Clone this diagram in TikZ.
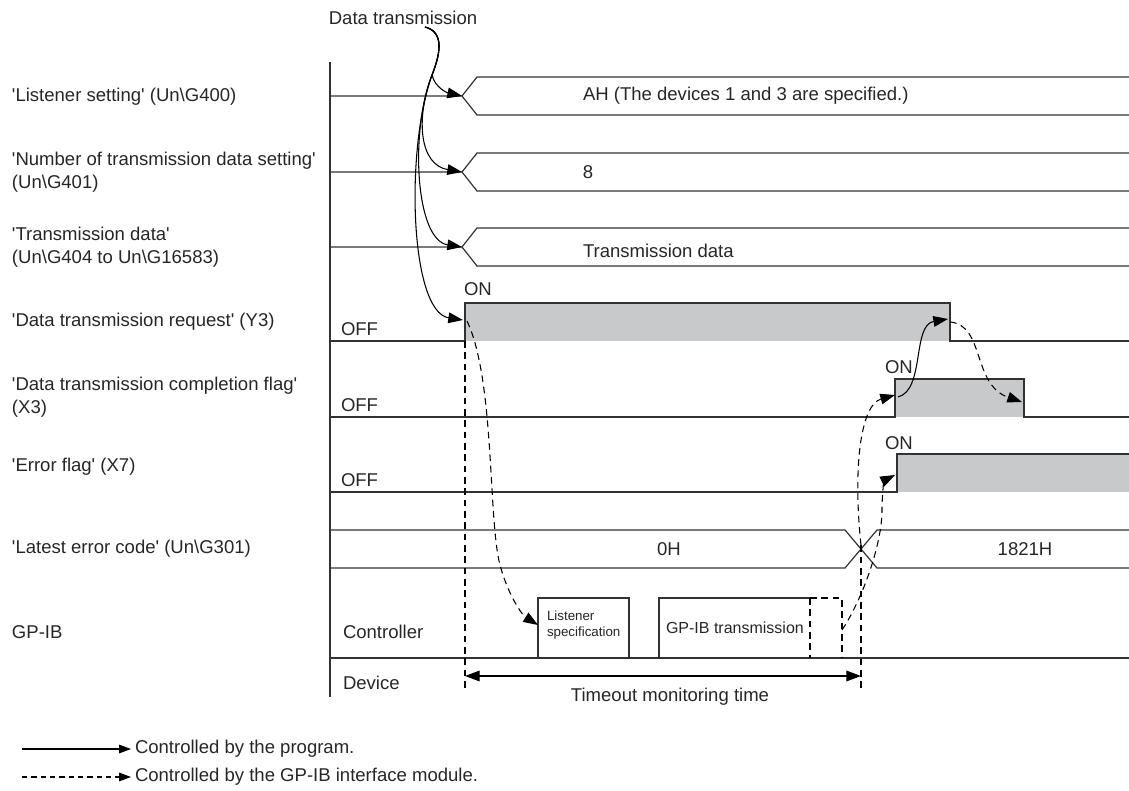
\documentclass[tikz,border=0pt]{standalone}
\usepackage{fontspec}
\setmainfont[Ligatures=TeXOff]{Liberation Sans}
\usetikzlibrary{arrows.meta}
\definecolor{wavegray}{RGB}{200,201,202}
\definecolor{linec}{RGB}{50,50,50}
\begin{document}
\begin{tikzpicture}[x=0.75pt,y=-0.75pt,
  every node/.style={inner sep=0pt, outer sep=0pt, font=\fontsize{13.9}{17.25}\selectfont, text=black!85},
  sig/.style={line width=0.9pt, draw=linec},
  ctl/.style={line width=0.8pt, draw=black, -{Triangle[length=11pt,width=8pt]}},
  modctl/.style={ctl, dash pattern=on 5pt off 3.5pt},
  legctl/.style={line width=0.8pt, draw=black, -{Triangle[length=9pt,width=6.5pt]}},
  guide/.style={line width=0.8pt, draw=black, dash pattern=on 5pt off 3.5pt},
  lbl/.style={anchor=west, align=left},
  smalltxt/.style={font=\fontsize{10}{12}\selectfont, align=left, anchor=west},
]
\useasboundingbox (0,0) rectangle (1129,791);

% ---------- left labels ----------
\node[lbl] (l1) at (12,97) {'Listener setting' (Un\textbackslash G400)};
\node[lbl] (l2) at (12,172) {'Number of transmission data setting'\\(Un\textbackslash G401)};
\node[lbl] (l3) at (12,247) {'Transmission data'\\(Un\textbackslash G404 to Un\textbackslash G16583)};
\node[lbl] (l4) at (12,322) {'Data transmission request' (Y3)};
\node[lbl] (l5) at (12,397) {'Data transmission completion flag'\\(X3)};
\node[lbl] (l6) at (12,467) {'Error flag' (X7)};
\node[lbl] (l7) at (12,549) {'Latest error code' (Un\textbackslash G301)};
\node[lbl] (l8) at (12,632) {GP-IB};

% ---------- axis ----------
\draw[sig] (330,62) -- (330,697);

% ---------- bus rows ----------
\draw[sig] (330,96) -- (462,96) -- (477,77) -- (1129,77);
\draw[sig] (462,96) -- (477,115) -- (1129,115);
\draw[sig] (330,172) -- (462,172) -- (477,153) -- (1129,153);
\draw[sig] (462,172) -- (477,191) -- (1129,191);
\draw[sig] (330,247) -- (462,247) -- (477,228) -- (1129,228);
\draw[sig] (462,247) -- (477,266) -- (1129,266);
\node[anchor=west] (v1) at (583,96) {AH (The devices 1 and 3 are specified.)};
\node (v2) at (588,172) {8};
\node[anchor=west] (v3) at (583,251) {Transmission data};

% ---------- Y3 ----------
\fill[wavegray] (465,303) rectangle (950,341);
\draw[sig] (330,341) -- (465,341) -- (465,303) -- (950,303) -- (950,341) -- (1129,341);
\node[anchor=west] (on1) at (464,289) {ON};
\node[anchor=west] (off1) at (341,329) {OFF};

% ---------- X3 ----------
\fill[wavegray] (895,379) rectangle (1024,417);
\draw[sig] (330,417) -- (895,417) -- (895,379) -- (1024,379) -- (1024,417) -- (1129,417);
\node[anchor=west] (on2) at (885,367) {ON};
\node[anchor=west] (off2) at (341,405) {OFF};

% ---------- X7 ----------
\fill[wavegray] (897,454) rectangle (1129,492);
\draw[sig] (330,492) -- (897,492) -- (897,454) -- (1129,454);
\node[anchor=west] (on3) at (885,443) {ON};
\node[anchor=west] (off3) at (341,480) {OFF};

% ---------- latest error code ----------
\draw[sig] (330,530) -- (845,530) -- (877,568) -- (1129,568);
\draw[sig] (330,568) -- (845,568) -- (877,530) -- (1129,530);
\node (v4) at (669,549) {0H};
\node (v5) at (1025,549) {1821H};

% ---------- GP-IB ----------
\draw[sig] (330,658) -- (1129,658);
\node[anchor=west] (ctlr) at (343,632) {Controller};
\node[anchor=west] (dev) at (343,683) {Device};
\draw[sig] (538,658) -- (538,598) -- (629,598) -- (629,658);
\node[smalltxt] (lsp) at (547,625) {Listener\\specification};
\draw[sig] (810,598) -- (659,598) -- (659,658);
\node[anchor=west, font=\fontsize{12}{14}\selectfont] (gpt) at (666,628) {GP-IB transmission};
\draw[guide] (810,598) -- (810,658);
\draw[guide] (810,598) -- (842,598) -- (842,658);

% ---------- coordinates ----------
\coordinate (dt) at (425,27);
\coordinate (dtk) at (432,75);
\coordinate (t1) at (462,96);
\coordinate (t2) at (462,172);
\coordinate (t3) at (462,247);
\coordinate (t4) at (463,320);
\coordinate (y3r) at (467,321);
\coordinate (lspin) at (538,625);
\coordinate (gpout) at (842,630);
\coordinate (x3r) at (895,395);
\coordinate (x3s) at (898,397);
\coordinate (x7r) at (895,475);
\coordinate (y3f) at (948,319);
\coordinate (y3fs) at (950,322);
\coordinate (x3f) at (1022,402);
\coordinate (tm1) at (465,676);
\coordinate (tm2) at (861,676);
\coordinate (g1t) at (465,341);
\coordinate (g1b) at (465,688);
\coordinate (g2t) at (861,545);
\coordinate (g2b) at (861,688);
\coordinate (lg1a) at (22,749);
\coordinate (lg1b) at (131,749);
\coordinate (lg2a) at (22,777);
\coordinate (lg2b) at (131,777);

\node (dtl) at (403,18) {Data transmission};

% ---------- program-controlled arrows ----------
\draw[ctl] (dt) .. controls (445,32) and (440,55) .. (dtk) .. controls (435,88) and (448,93) .. (t1);
\draw[ctl] (dt) .. controls (445,32) and (440,55) .. (dtk) .. controls (415,120) and (420,165) .. (t2);
\draw[ctl] (dt) .. controls (445,32) and (440,55) .. (dtk) .. controls (410,130) and (415,240) .. (t3);
\draw[ctl] (dt) .. controls (445,32) and (440,55) .. (dtk) .. controls (405,150) and (410,312) .. (t4);
\draw[ctl] (x3s) .. controls (925,390) and (912,325) .. (y3f);

% ---------- module-controlled arrows ----------
\draw[modctl] (y3r) .. controls (495,380) and (488,520) .. (500,565) .. controls (508,595) and (522,615) .. (lspin);
\draw[guide] (g2b) -- (g2t);
\draw[modctl] (g2t) .. controls (853,470) and (860,405) .. (x3r);
\draw[modctl] (gpout) .. controls (862,600) and (882,545) .. (882,510) .. controls (882,490) and (885,480) .. (x7r);
\draw[modctl] (y3fs) .. controls (985,325) and (972,385) .. (x3f);

% ---------- timeout ----------
\draw[guide] (g1t) -- (g1b);
\draw[line width=0.8pt, {Triangle[length=11pt,width=8pt]}-{Triangle[length=11pt,width=8pt]}] (tm1) -- (tm2);
\node (tmo) at (670,697) {Timeout monitoring time};

% ---------- legend ----------
\draw[legctl] (lg1a) -- (lg1b);
\node[anchor=west] (lgt1) at (135,749) {Controlled by the program.};
\draw[legctl, dash pattern=on 4pt off 3pt] (lg2a) -- (lg2b);
\node[anchor=west] (lgt2) at (135,777) {Controlled by the GP-IB interface module.};
\end{tikzpicture}
\end{document}
